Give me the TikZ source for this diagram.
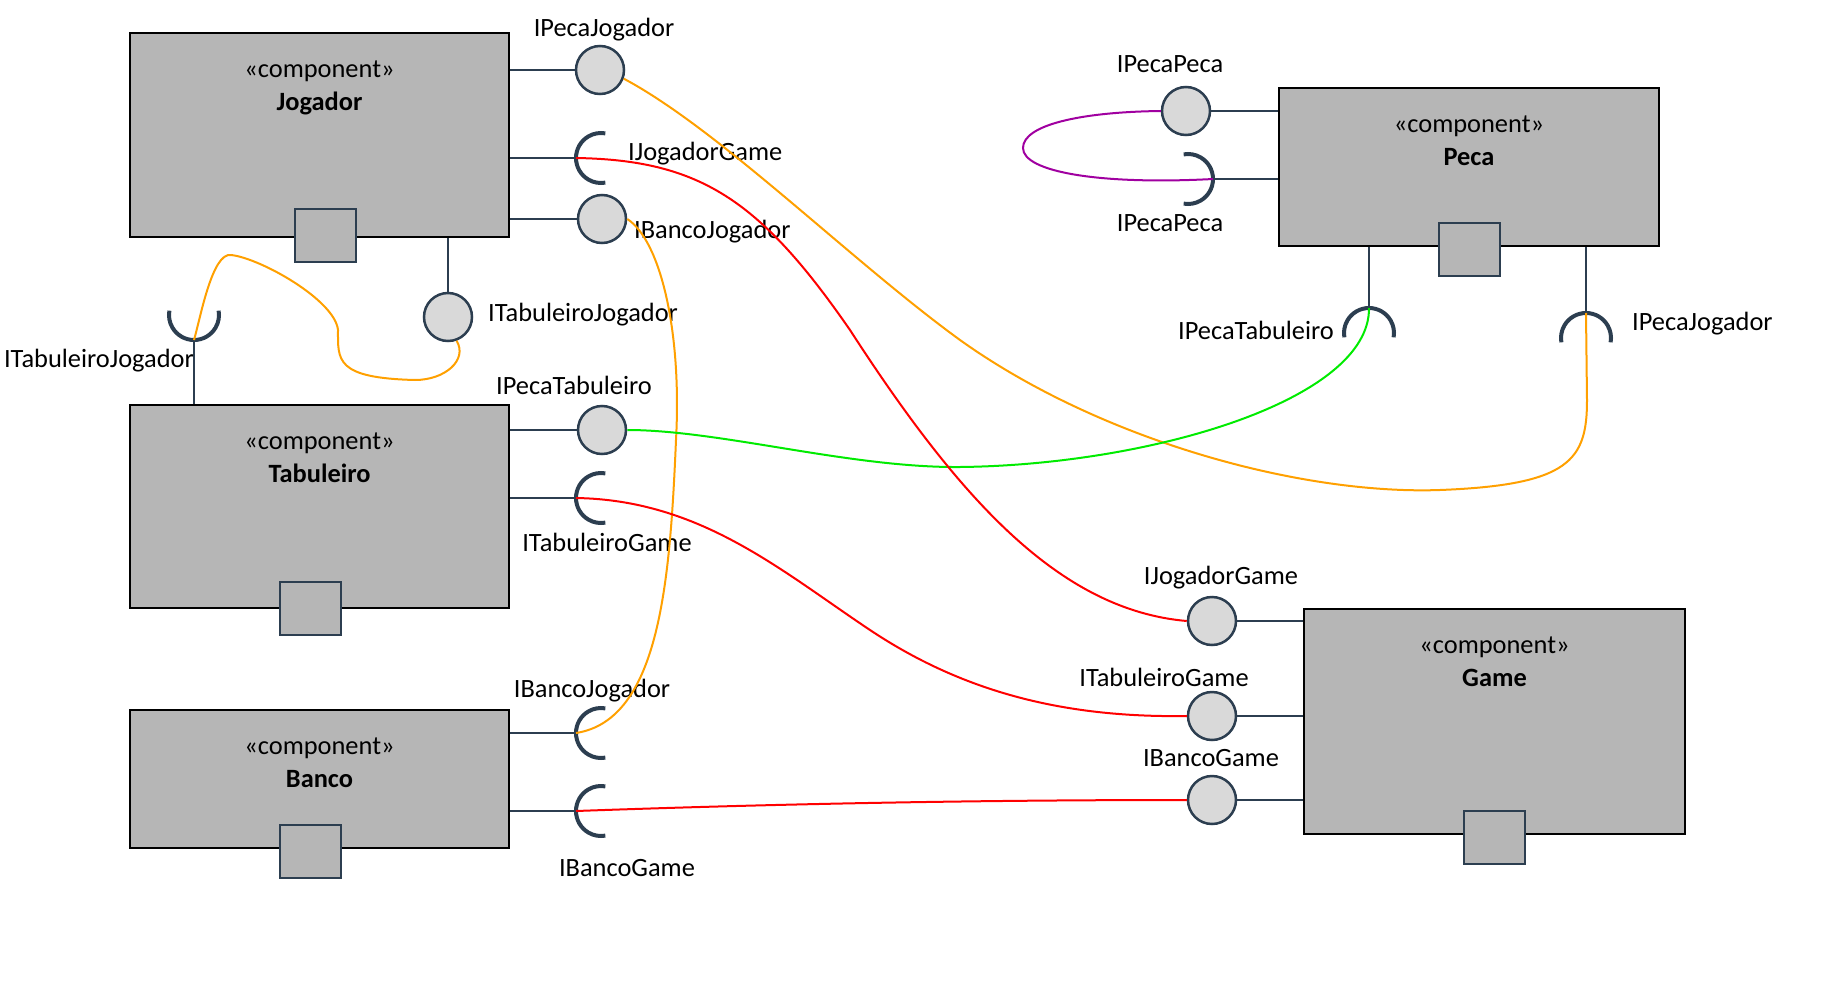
\documentclass[tikz,border=0pt]{standalone}
\usepackage{fontspec}
\setmainfont{Carlito}
\usepackage{tikz}
\usetikzlibrary{positioning}

\definecolor{compgray}{RGB}{182,182,182}
\definecolor{lgray}{RGB}{217,217,217}
\definecolor{slate}{RGB}{44,62,80}
\definecolor{orng}{RGB}{255,160,0}
\definecolor{grn}{RGB}{0,235,0}
\definecolor{purp}{RGB}{160,0,160}

\tikzset{
    comp/.style={rectangle, draw=black, line width=2.5pt, fill=compgray, minimum width=379pt, inner sep=0pt},
    comptxt/.style={anchor=north, yshift=-29pt, align=center, inner sep=0pt, font=\fontsize{26.4}{33}\selectfont},
    port/.style={rectangle, draw=slate, line width=2pt, fill=compgray, minimum width=61pt, minimum height=53pt, inner sep=0pt},
    prov/.style={circle, draw=slate, line width=2.5pt, fill=lgray, minimum size=48pt, inner sep=0pt},
    req/.style={draw=slate, line width=4pt},
    iface/.style={draw=slate, line width=2.5pt},
    lbl/.style={inner sep=0pt},
    wire/.style={line width=2pt}
}

\begin{document}
\begin{tikzpicture}[x=1pt, y=1pt, font=\fontsize{26.4}{31}\selectfont]
    \useasboundingbox (0,0) rectangle (1832,-985);
    % components
    \node[comp, minimum height=204pt] (jog) at (319.5,-135) {};
    \node[comp, minimum height=203pt] (tab) at (319.5,-506.5) {};
    \node[comp, minimum height=138pt] (banco) at (319.5,-779) {};
    \node[comp, minimum width=380pt, minimum height=158pt] (peca) at (1469,-167) {};
    \node[comp, minimum width=381pt, minimum height=225pt] (game) at (1494.5,-721.5) {};
    \foreach \c/\n in {jog/Jogador, tab/Tabuleiro, banco/Banco, peca/Peca, game/Game}
        \node[comptxt] (\c-txt) at (\c.north) {«component»\\\textbf{\n}};
    \foreach \c/\dx/\dy in {jog/6/3, tab/-9/1, banco/-9/-2, peca/0/-2, game/0/-2}
        \node[port, xshift=\dx pt, yshift=\dy pt] (\c-port) at (\c.south) {};

    % provided interfaces
    \node[prov] (l1) at (600,-70) {};
    \node[prov] (l2) at (602,-219) {};
    \node[prov] (l3) at (448,-317) {};
    \node[prov] (l4) at (602,-430) {};
    \node[prov] (l5) at (1186,-111) {};
    \node[prov] (l6) at (1212,-621) {};
    \node[prov] (l7) at (1212,-716) {};
    \node[prov] (l8) at (1212,-800) {};

    % required interfaces
    \coordinate (s1) at (576,-158);
    \coordinate (s2) at (576,-498);
    \coordinate (s3) at (576,-733);
    \coordinate (s4) at (576,-811);
    \coordinate (s5) at (194,-340);
    \coordinate (s6) at (1213,-179);
    \coordinate (s7) at (1369,-308);
    \coordinate (s8) at (1586,-313);

    \foreach \i in {l1,l2,s1} \draw[iface] (\i) -- (\i -| jog.east);
    \foreach \i in {l4,s2} \draw[iface] (\i) -- (\i -| tab.east);
    \foreach \i in {s3,s4} \draw[iface] (\i) -- (\i -| banco.east);
    \foreach \i in {l5,s6} \draw[iface] (\i) -- (\i -| peca.west);
    \foreach \i in {l6,l7,l8} \draw[iface] (\i) -- (\i -| game.west);
    \draw[iface] (l3) -- (l3 |- jog.south);
    \draw[iface] (s5) -- (s5 |- tab.north);
    \draw[iface] (s7) -- (s7 |- peca.south);
    \draw[iface] (s8) -- (s8 |- peca.south);

    \foreach \s/\a in {s1/180, s2/180, s3/180, s4/180, s5/270, s6/0, s7/90, s8/90}
        \draw[req] (\s) arc[start angle=\a, end angle=\a+100, radius=25pt]
                   (\s) arc[start angle=\a, end angle=\a-100, radius=25pt];

    % labels
    \node[lbl, anchor=base] (t1) at (604,-36) {IPecaJogador};
    \node[lbl, anchor=base west] (t2) at (628,-160) {IJogadorGame};
    \node[lbl, anchor=base west] (t3) at (634,-238) {IBancoJogador};
    \node[lbl, anchor=base west] (t4) at (488,-321) {ITabuleiroJogador};
    \node[lbl, anchor=base east] (t5) at (194,-367) {ITabuleiroJogador};
    \node[lbl, anchor=base] (t6) at (574,-394) {IPecaTabuleiro};
    \node[lbl, anchor=base] (t7) at (607,-551) {ITabuleiroGame};
    \node[lbl, anchor=base] (t8) at (592,-697) {IBancoJogador};
    \node[lbl, anchor=base] (t9) at (627,-876) {IBancoGame};
    \node[lbl, anchor=base] (t10) at (1170,-72) {IPecaPeca};
    \node[lbl, anchor=base] (t11) at (1170,-231) {IPecaPeca};
    \node[lbl, anchor=base east] (t12) at (1334,-339) {IPecaTabuleiro};
    \node[lbl, anchor=base west] (t13) at (1632,-330) {IPecaJogador};
    \node[lbl, anchor=base] (t14) at (1221,-584) {IJogadorGame};
    \node[lbl, anchor=base] (t15) at (1164,-686) {ITabuleiroGame};
    \node[lbl, anchor=base] (t16) at (1211,-766) {IBancoGame};

    % assembly wires
    \draw[wire, orng] (l1.-20) .. controls (720,-130) and (850,-260) .. (960,-340)
        .. controls (1100,-440) and (1300,-495) .. (1440,-490)
        .. controls (1570,-485) and (1587,-460) .. (1587,-400) -- (s8);
    \draw[wire, orng] (l2.east) .. controls (660,-240) and (682,-330) .. (676,-440)
        .. controls (670,-580) and (660,-720) .. (s3);
    \draw[wire, orng] (l3.-70) .. controls (468,-360) and (445,-380) .. (415,-380)
        .. controls (335,-378) and (338,-360) .. (338,-330)
        .. controls (335,-300) and (260,-258) .. (231,-255)
        .. controls (212,-252) and (200,-320) .. (s5);
    \draw[wire, grn] (l4.east) .. controls (720,-430) and (850,-468) .. (960,-467)
        .. controls (1150,-465) and (1370,-400) .. (s7);
    \draw[wire, red] (s1) .. controls (700,-160) and (760,-200) .. (850,-330)
        .. controls (960,-500) and (1060,-610) .. (l6.west);
    \draw[wire, red] (s2) .. controls (700,-500) and (780,-570) .. (870,-630)
        .. controls (960,-690) and (1060,-718) .. (l7.west);
    \draw[wire, red] (s4) .. controls (800,-803) and (1000,-800) .. (l8.west);
    \draw[wire, purp] (l5.west) .. controls (1080,-112) and (1023,-125) .. (1023,-148)
        .. controls (1023,-172) and (1100,-185) .. (s6);
\end{tikzpicture}
\end{document}
